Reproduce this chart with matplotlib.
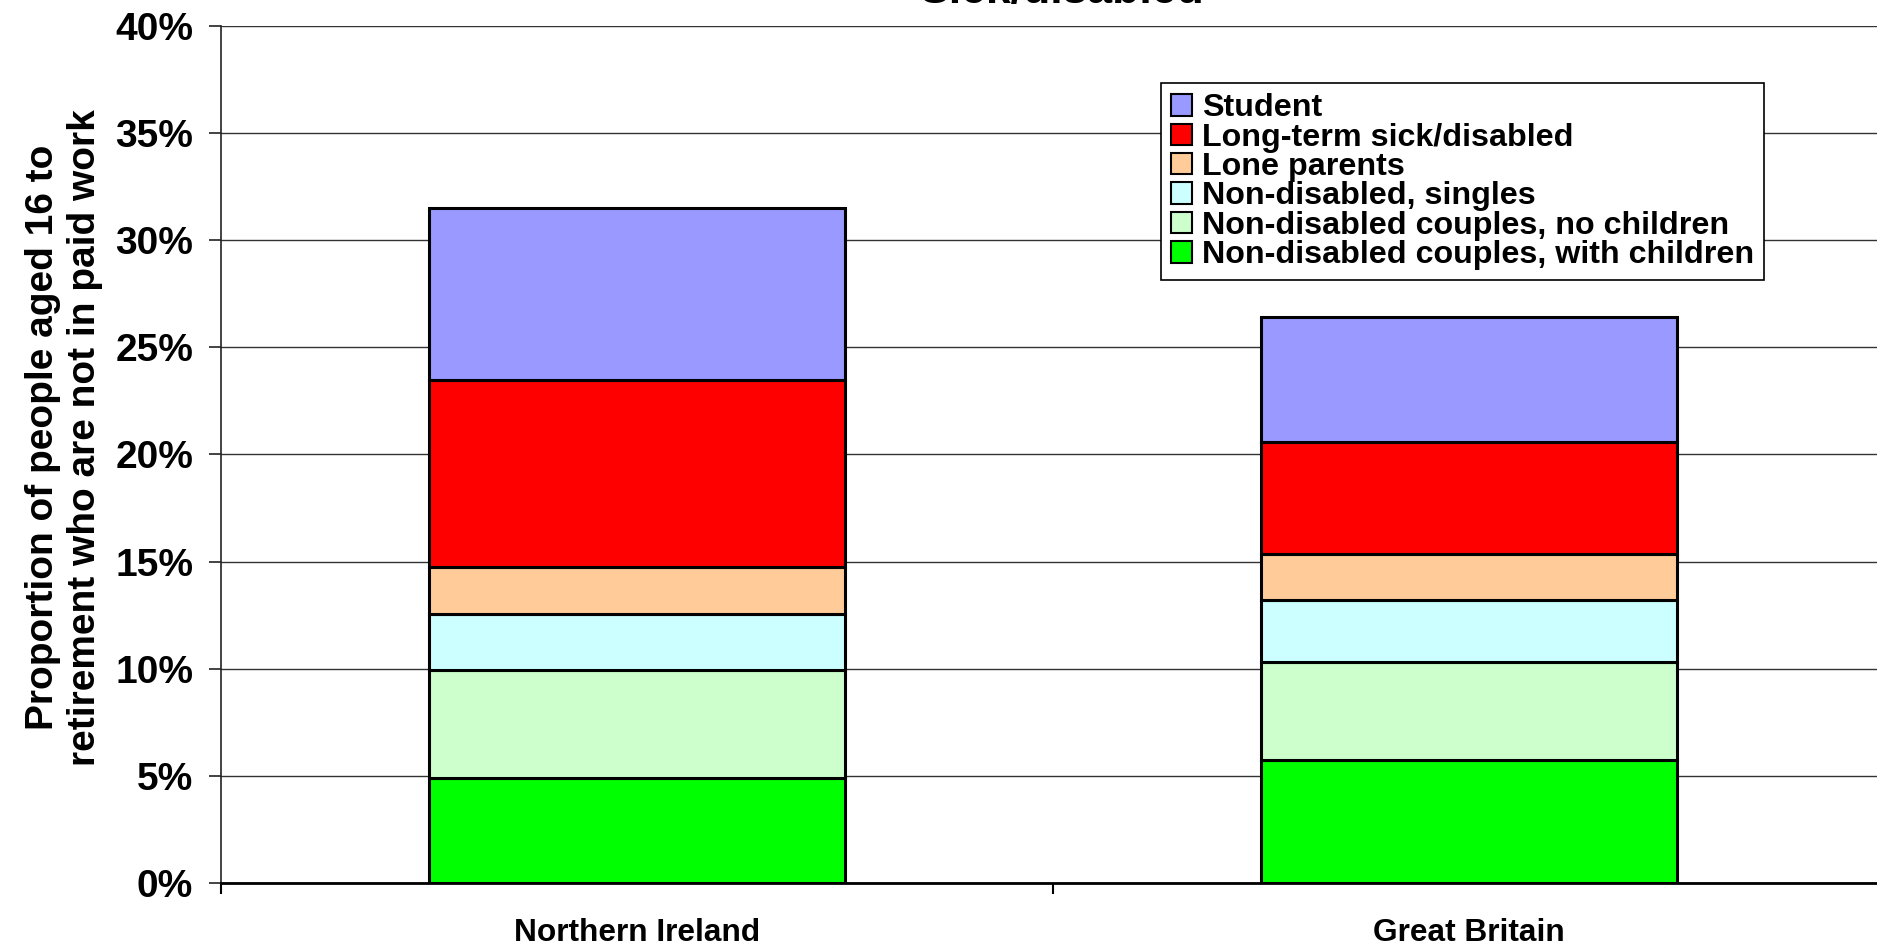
import matplotlib
matplotlib.use("Agg")
import matplotlib.pyplot as plt
from matplotlib.ticker import FixedLocator, FuncFormatter

plt.rcParams['font.family'] = ['Liberation Sans', 'DejaVu Sans']
plt.rcParams['font.weight'] = 'bold'

title = "Sick/disabled"
categories = ["Northern Ireland", "Great Britain"]
series_names = [
    "Non-disabled couples, with children",
    "Non-disabled couples, no children",
    "Non-disabled, singles",
    "Lone parents",
    "Long-term sick/disabled",
    "Student",
]
colors = ["#00FF00", "#CCFFCC", "#CCFFFF", "#FFCC99", "#FF0000", "#9999FF"]
# values in percent, per series (bottom to top), for [NI, GB]
couples_with_children = [4.9, 5.75]
couples_no_children = [5.05, 4.55]
singles = [2.6, 2.9]
lone_parents = [2.2, 2.15]
sick_disabled = [8.75, 5.25]
student = [8.0, 5.8]
series_values = [couples_with_children, couples_no_children, singles,
                 lone_parents, sick_disabled, student]
yticks = [0, 5, 10, 15, 20, 25, 30, 35, 40]

W, H = 1877, 946
fig = plt.figure(figsize=(W / 100, H / 100), dpi=100)
ax = fig.add_axes([221 / W, 1 - 883 / H, (1885 - 221) / W, (883 - 26) / H])

x = list(range(len(categories)))
bottoms = [0.0] * len(categories)
handles = []
for name, vals, col in zip(series_names, series_values, colors):
    b = ax.bar(x, vals, width=0.5, bottom=bottoms, color=col,
               edgecolor="black", linewidth=2.2, label=name, zorder=3)
    handles.append(b)
    bottoms = [bb + v for bb, v in zip(bottoms, vals)]

ax.set_xlim(-0.5, len(categories) - 0.5)
ax.set_ylim(0, 40)

ax.yaxis.set_major_locator(FixedLocator(yticks))
ax.yaxis.set_major_formatter(FuncFormatter(lambda v, p: f"{v:.0f}%"))
ax.tick_params(axis='y', direction='out', length=8.6, width=1.2,
               labelsize=28, pad=11.5, color='#222222')
ax.grid(axis='y', color='#333333', linewidth=1.0, zorder=0)

ax.set_xticks([-0.5, 0.5, 1.5])
ax.set_xticklabels([])
ax.set_xticks(x, minor=True)
ax.set_xticklabels(categories, minor=True)
ax.tick_params(axis='x', which='major', direction='out', length=8, width=1.5)
ax.tick_params(axis='x', which='minor', length=0, labelsize=22.8, pad=25)

for s in ['top', 'right']:
    ax.spines[s].set_visible(False)
ax.spines['left'].set_linewidth(1.2)
ax.spines['left'].set_color('#222222')
ax.spines['bottom'].set_linewidth(2)
ax.spines['bottom'].set_zorder(4)

ax.set_ylabel("Proportion of people aged 16 to\nretirement who are not in paid work",
              fontsize=28, fontweight='bold', ha='center', va='center',
              linespacing=1.2)
ax.yaxis.set_label_coords(-0.0945, 0.52)

leg = fig.legend(handles[::-1], series_names[::-1], loc='upper left',
                 bbox_to_anchor=(1161 / W, 1 - 83 / H), borderaxespad=0,
                 fontsize=23.2, handlelength=0.65, handleheight=0.65,
                 handletextpad=0.3, borderpad=0.32, labelspacing=-0.02,
                 fancybox=False, framealpha=1, edgecolor='black')
leg.get_frame().set_linewidth(1.2)
for h in leg.legend_handles:
    h.set_linewidth(1.5)

fig.text(1062 / W, 1 - 3.5 / H, title, ha='center', va='baseline',
         fontsize=32, fontweight='bold')

fig.savefig("out.png", dpi=100)
